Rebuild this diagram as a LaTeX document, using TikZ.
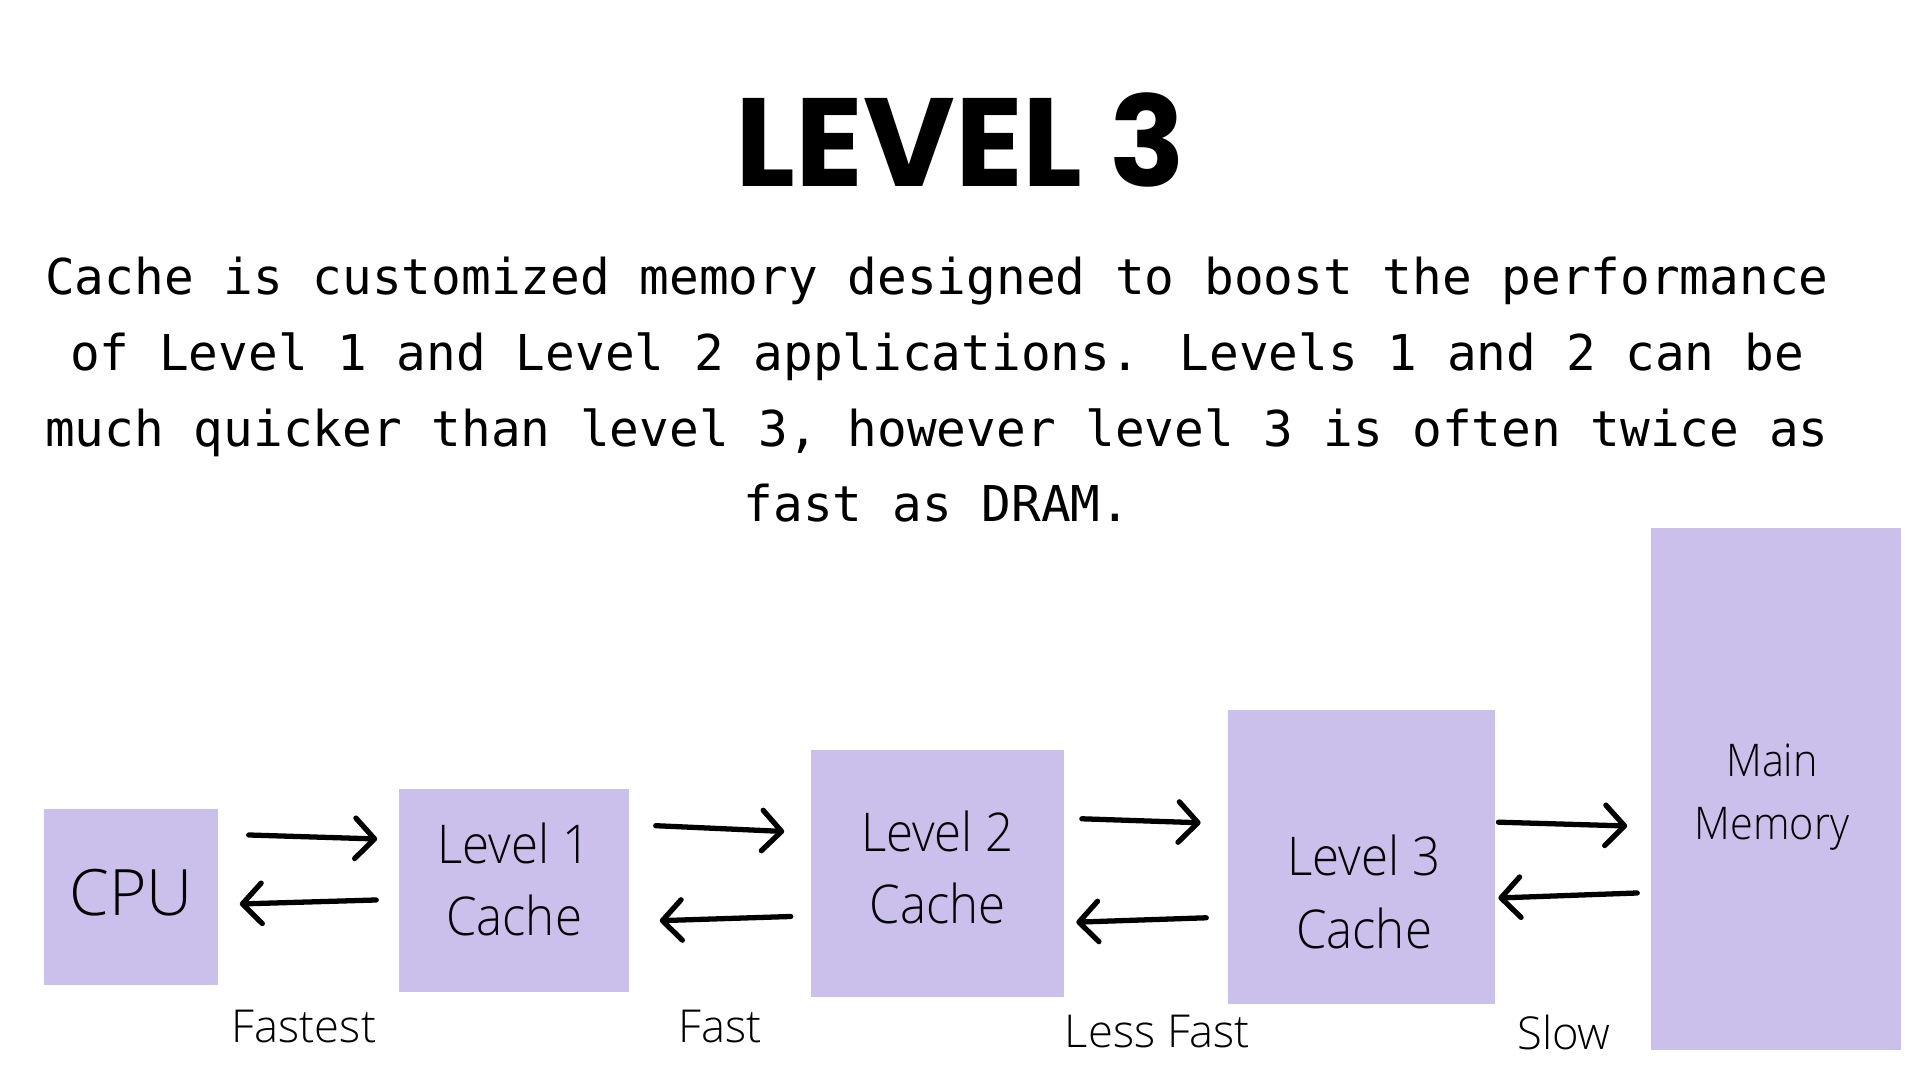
\documentclass[tikz,border=0pt]{standalone}
\usepackage{fontspec}
\usepackage{xcolor}
\usepackage{tikz}
\usetikzlibrary{arrows.meta}
\newfontfamily\titlefont{Poppins}
\newfontfamily\parafont{DejaVu Sans Mono}
\newfontfamily\boxfont{Open Sans Light}[FakeStretch=0.92]
\newfontfamily\speedfont{Open Sans Light}
\definecolor{memfill}{RGB}{203,191,236}

\begin{document}
\begin{tikzpicture}[x=0.01cm, y=-0.01cm,
  membox/.style={fill=memfill, inner sep=0pt},
  boxlabel/.style={font={\boxfont\fontsize{15.2}{20.5}\selectfont}, align=center, anchor=south, inner sep=0pt},
  speed/.style={font={\speedfont\fontsize{12.9}{15}\selectfont}, anchor=base, inner sep=0pt},
  flow/.style={line width=1.5pt, line cap=round, -{Straight Barb[length=5.5pt, width=11.5pt, round]}}]
  \fill[white] (0,0) rectangle (1920,1080);
  \useasboundingbox (0,0) rectangle (1920,1080);
  \node[font={\titlefont\bfseries\fontsize{35.7}{38}\selectfont}, anchor=base, inner sep=0pt] (title) at (960.5,187) {LEVEL 3};
  \node[font={\parafont\fontsize{14.04}{21.48}\selectfont}, align=center, anchor=south, inner sep=0pt] (intro) at (937,523) {Cache is customized memory designed to boost the performance\\of Level 1 and Level 2 applications. Levels 1 and 2 can be\\much quicker than level 3, however level 3 is often twice as\\fast as DRAM.};
  \node[membox, minimum width=1.74cm, minimum height=1.76cm] (cpu) at (131,897) {};
  \node[membox, minimum width=2.30cm, minimum height=2.03cm] (l1) at (514,890.5) {};
  \node[membox, minimum width=2.52cm, minimum height=2.47cm] (l2) at (937.5,873.5) {};
  \node[membox, minimum width=2.67cm, minimum height=2.93cm] (l3) at (1361.5,857) {};
  \node[membox, minimum width=2.50cm, minimum height=5.22cm] (mm) at (1776,789) {};
  \node[font={\speedfont\fontsize{18.2}{22}\selectfont}, anchor=base, inner sep=0pt] (cputext) at (131,916) {CPU};
  \node[boxlabel] (l1text) at (514,937) {Level 1\\Cache};
  \node[boxlabel] (l2text) at (937.5,925) {Level 2\\Cache};
  \node[boxlabel] (l3text) at (1364,949.3) {Level 3\\Cache};
  \node[boxlabel, font={\boxfont\fontsize{12.8}{17.9}\selectfont}] (mmtext) at (1772,851) {Main\\Memory};
  % arrows between the levels
  \draw[flow] ([shift={(30,-62)}]cpu.east) -- ([shift={(-21,-51.5)}]l1.west);
  \draw[flow] ([shift={(-22,9.5)}]l1.west) -- ([shift={(21,7)}]cpu.east);
  \draw[flow] ([shift={(26,-64.8)}]l1.east) -- ([shift={(-26.5,-42)}]l2.west);
  \draw[flow] ([shift={(-20,43)}]l2.west) -- ([shift={(30,30.2)}]l1.east);
  \draw[flow] ([shift={(17.6,-54.7)}]l2.east) -- ([shift={(-26.6,-34.2)}]l3.west);
  \draw[flow] ([shift={(-21,60.8)}]l3.west) -- ([shift={(12,48.7)}]l2.east);
  \draw[flow] ([shift={(2.7,-34.8)}]l3.east) -- ([shift={(-23,37)}]mm.west);
  \draw[flow] ([shift={(-13,104)}]mm.west) -- ([shift={(2.6,41)}]l3.east);
  \node[speed] (fastest) at (304,1043) {Fastest};
  \node[speed] (fast) at (720,1043) {Fast};
  \node[speed] (lessfast) at (1157.5,1048) {Less Fast};
  \node[speed] (slow) at (1564,1050) {Slow};
\end{tikzpicture}
\end{document}
